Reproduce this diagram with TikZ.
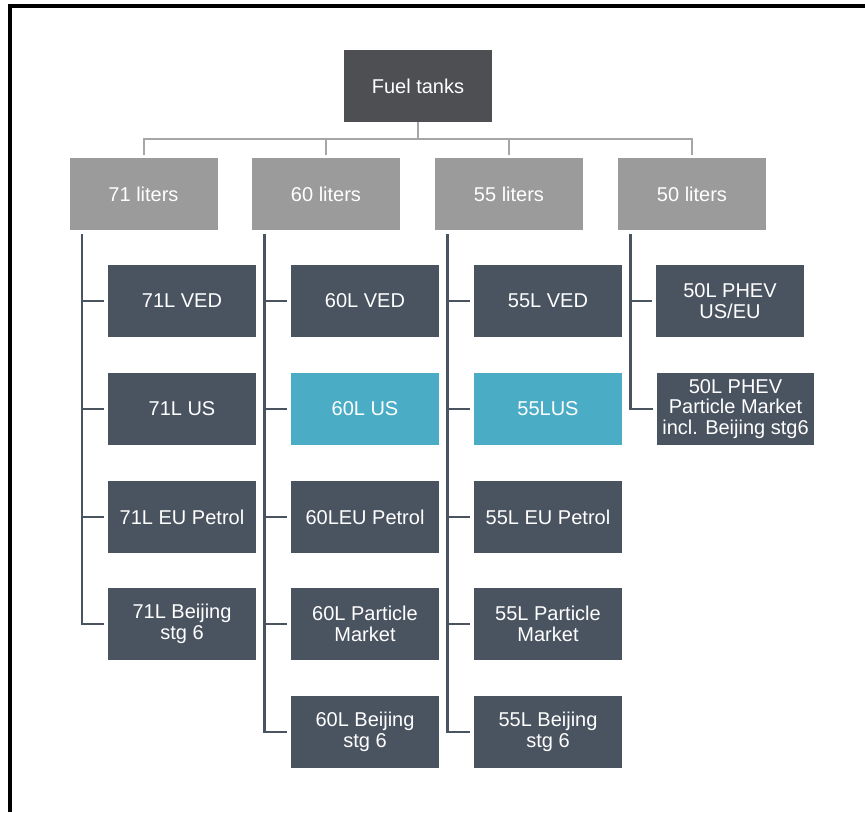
\documentclass[tikz,border=0pt]{standalone}
\usepackage{fontspec}
\setmainfont{Liberation Sans}
\begin{document}
\begin{tikzpicture}[x=1pt,y=-1pt,
  box/.style={rectangle, minimum width=148pt, minimum height=72pt, inner sep=0pt,
    align=center, text=white, font=\fontsize{20}{20.5}\selectfont},
  rootbox/.style={box, fill=rootgray},
  groupbox/.style={box, fill=groupgray},
  leafbox/.style={box, fill=leafslate},
  hilite/.style={box, fill=tealblue},
  bus/.style={draw=busgray, line width=2pt},
  trunk/.style={draw=leafslate, line width=2.4pt, shorten <=4pt, shorten >=4pt},
  frame/.style={draw=black, line width=3.2pt}
]
\definecolor{rootgray}{HTML}{4E4F53}
\definecolor{groupgray}{HTML}{9B9B9B}
\definecolor{leafslate}{HTML}{4A5461}
\definecolor{tealblue}{HTML}{4BACC6}
\definecolor{busgray}{HTML}{A6A6A6}

\useasboundingbox (0,0) rectangle (865,812);
\fill[white] (0,0) rectangle (865,812);

% frame: top and left edges
\coordinate (fa) at (10,6);
\coordinate (fb) at (865,6);
\coordinate (fc) at (10,812);
\draw[frame] (fb) -- (fa) -- (fc);

% root
\node[rootbox] (root) at (418,86) {Fuel tanks};

% capacity groups
\node[groupbox] (g71) at (143.5,194) {71 liters};
\node[groupbox] (g60) at (326,194) {60 liters};
\node[groupbox] (g55) at (509,194) {55 liters};
\node[groupbox] (g50) at (692,194) {50 liters};

% 71 liters
\node[leafbox] (a1) at (182,301) {71L VED};
\node[leafbox] (a2) at (182,409) {71L US};
\node[leafbox] (a3) at (182,517) {71L EU Petrol};
\node[leafbox] (a4) at (182,624) {71L Beijing\\stg 6};

% 60 liters
\node[leafbox] (b1) at (365,301) {60L VED};
\node[hilite]  (b2) at (365,409) {60L US};
\node[leafbox] (b3) at (365,517) {60LEU Petrol};
\node[leafbox] (b4) at (365,624) {60L Particle\\Market};
\node[leafbox] (b5) at (365,732) {60L Beijing\\stg 6};

% 55 liters
\node[leafbox] (c1) at (548,301) {55L VED};
\node[hilite]  (c2) at (548,409) {55LUS};
\node[leafbox] (c3) at (548,517) {55L EU Petrol};
\node[leafbox] (c4) at (548,624) {55L Particle\\Market};
\node[leafbox] (c5) at (548,732) {55L Beijing\\stg 6};

% 50 liters
\node[leafbox] (d1) at (730,301) {50L PHEV\\US/EU};
\node[leafbox, minimum width=157pt] (d2) at (735.5,409) {50L PHEV\\Particle Market\\incl. Beijing stg6};

% root to groups
\foreach \g in {g71,g60,g55,g50}
  \draw[bus, shorten >=3pt] (root.south) -- ++(0,17) -| (\g.north);

% groups to leaves
\foreach \g/\leaves in {g71/{a1,a2,a3,a4}, g60/{b1,b2,b3,b4,b5}, g55/{c1,c2,c3,c4,c5}, g50/{d1,d2}}
  \foreach \l in \leaves
    \draw[trunk] ([xshift=12.5pt]\g.south west) |- (\l.west);
\end{tikzpicture}
\end{document}
